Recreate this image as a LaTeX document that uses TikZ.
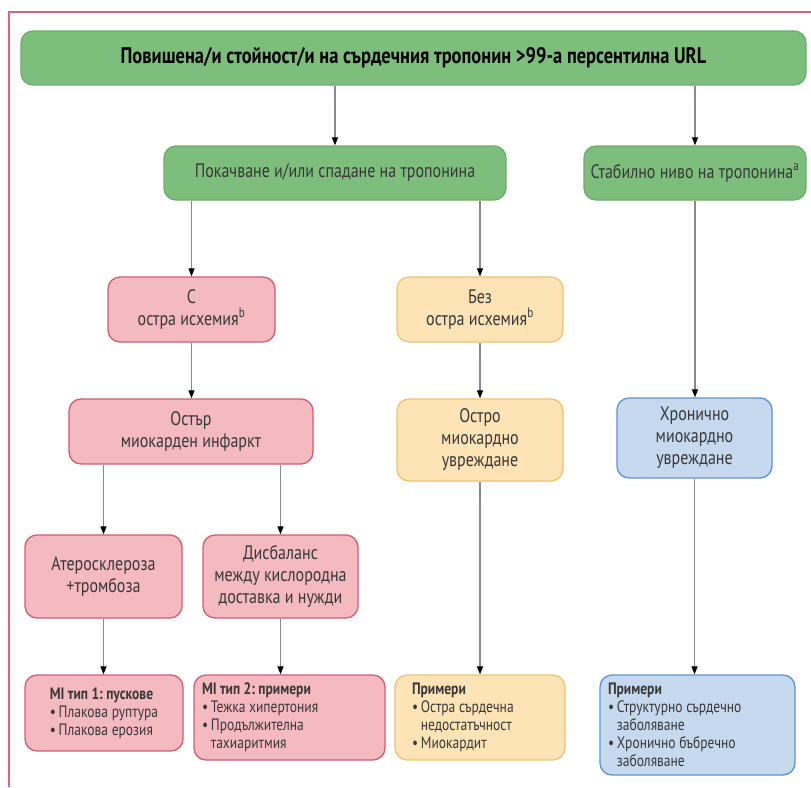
\documentclass[tikz,border=0pt]{standalone}
\usepackage{fontspec}
\setmainfont{PT Sans}[FakeStretch=0.82]
\usepackage{xcolor}
\usepackage{tikz}
\usetikzlibrary{arrows.meta,positioning,calc}

\definecolor{grfill}{HTML}{7DBE7D}
\definecolor{grdraw}{HTML}{6AAE6A}
\definecolor{pkfill}{HTML}{F4BABF}
\definecolor{pkdraw}{HTML}{D65A73}
\definecolor{ylfill}{HTML}{FDE3B6}
\definecolor{yldraw}{HTML}{F0C36E}
\definecolor{blfill}{HTML}{C6D9EF}
\definecolor{bldraw}{HTML}{5A96D2}
\definecolor{framecol}{HTML}{D8657F}
\definecolor{txtgray}{HTML}{383838}
\definecolor{linegray}{HTML}{8A8A8A}

\newcommand{\bul}{\textbullet\,}
\newcommand{\cont}{\phantom{\textbullet\,}}
\frenchspacing

\begin{document}
\begin{tikzpicture}[x=1pt,y=-1pt,
  every node/.style={font=\fontsize{19.5}{22}\selectfont, text=txtgray, align=center},
  box/.style={draw, rounded corners=12pt, line width=1.3pt, inner sep=4pt},
  greenbox/.style={box, fill=grfill, draw=grdraw},
  pinkbox/.style={box, fill=pkfill, draw=pkdraw},
  yellowbox/.style={box, fill=ylfill, draw=yldraw},
  bluebox/.style={box, fill=blfill, draw=bldraw},
  listbox/.style={align=flush left, font=\fontsize{16.5}{18}\selectfont},
  link/.style={draw=linegray, line width=1.2pt, -{Triangle[length=8pt,width=6pt,color=black]}}]
\useasboundingbox (0,0) rectangle (811,787);
\draw[framecol, line width=2pt] (811,12) -- (9,12) -- (9,787);

\node[greenbox, minimum width=785pt, minimum height=54pt, text=black, font=\bfseries\fontsize{22.5}{24}\selectfont] (elev) at (413.5,58) {Повишена/и стойност/и на сърдечния тропонин >99-а персентилна URL};

\node[greenbox, minimum width=342pt, minimum height=54pt] (rise) at (335,173) {Покачване и/или спадане на тропонина};
\node[greenbox, minimum width=222pt, minimum height=54pt] (stable) at (695,173) {Стабилно ниво на тропонина\textsuperscript{a}};

\node[pinkbox, minimum width=167pt, minimum height=65pt] (withis) at (191.5,309.5) {С\\остра исхемия\textsuperscript{b}};
\node[yellowbox, minimum width=166pt, minimum height=65pt] (withoutis) at (480,309.5) {Без\\остра исхемия\textsuperscript{b}};

\node[pinkbox, minimum width=244pt, minimum height=65pt] (ami) at (191,431.5) {Остър\\миокарден инфаркт};
\node[yellowbox, minimum width=166pt, minimum height=82pt] (acute) at (480,440) {Остро\\миокардно\\увреждане};
\node[bluebox, minimum width=155pt, minimum height=80pt] (chronic) at (694.5,438) {Хронично\\миокардно\\увреждане};

\node[pinkbox, minimum width=157pt, minimum height=83pt] (athero) at (103.5,576.5) {Атеросклероза\\+тромбоза};
\node[pinkbox, minimum width=155pt, minimum height=83pt] (imbal) at (280.5,576.5) {Дисбаланс\\между кислородна\\доставка и нужди};

\node[pinkbox, listbox, minimum width=158pt, minimum height=76pt] (type1) at (104,713) {\textbf{MI тип 1: пускове}\\\bul Плакова руптура\\\bul Плакова ерозия};
\node[pinkbox, listbox, minimum width=191pt, minimum height=85pt, text width=175pt] (type2) at (289.5,717.5) {\textbf{MI тип 2: примери}\\\bul Тежка хипертония\\\bul Продължителна\\\cont тахиаритмия};
\node[yellowbox, listbox, minimum width=170pt, minimum height=85pt, text width=136pt] (exa) at (480,717.5) {\textbf{Примери}\\\bul Остра сърдечна\\\cont недостатъчност\\\bul Миокардит};
\node[bluebox, listbox, minimum width=195pt, minimum height=100pt, text width=179pt] (exb) at (697.5,725) {\textbf{Примери}\\\bul Структурно сърдечно\\\cont заболяване\\\bul Хронично бъбречно\\\cont заболяване};

\foreach \a/\b in {elev/rise, elev/stable, rise/withis, rise/withoutis, ami/athero, ami/imbal}
  \draw[link] (\a.south -| \b) -- (\b.north);
\foreach \a/\b in {withis/ami, withoutis/acute, stable/chronic, athero/type1, imbal/type2, acute/exa, chronic/exb}
  \draw[link] (\a.south) -- (\a.south |- \b.north);
\end{tikzpicture}
\end{document}
